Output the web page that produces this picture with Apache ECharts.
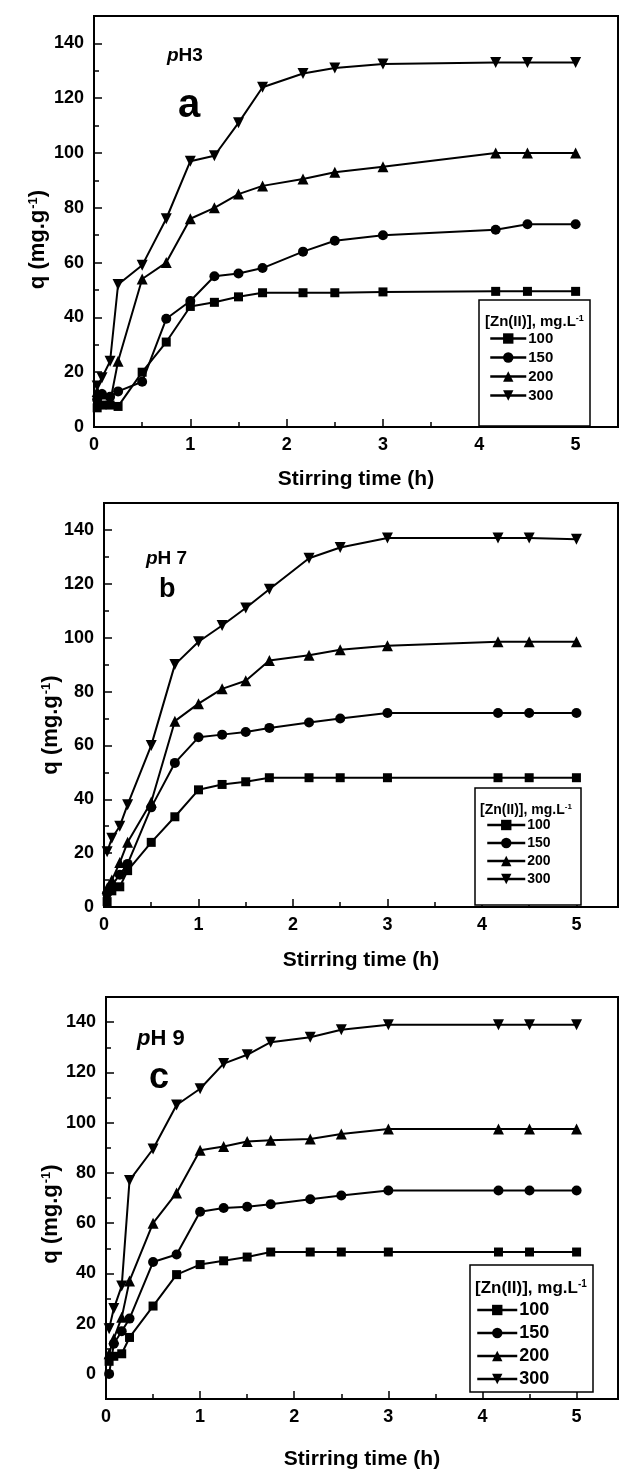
<!DOCTYPE html>
<html>
<head>
<meta charset="utf-8">
<script src="https://cdn.jsdelivr.net/npm/echarts@6/dist/echarts.min.js"></script>
<style>
  html, body { margin: 0; padding: 0; background: #fff; }
  #chart { width: 621px; height: 1471px; }
</style>
</head>
<body>
<div id="chart"></div>
<script>
// stirring times (h) shared by all runs
const times = [0.033, 0.083, 0.167, 0.25, 0.5, 0.75, 1, 1.25, 1.5, 1.75, 2.17, 2.5, 3, 4.17, 4.5, 5]
const seriesNames = ['100', '150', '200', '300']
const xTicks = [0, 1, 2, 3, 4, 5]
const yTicks = [0, 20, 40, 60, 80, 100, 120, 140]
const yMinorC = [-10, 10, 30, 50, 70, 90, 110, 130]

// pH 3
const a100 = [7, 8, 8, 7.5, 20, 31, 44, 45.5, 47.5, 49, 49, 49, 49.3, 49.5, 49.5, 49.5]
const a150 = [10, 12, 11, 13, 16.5, 39.5, 46, 55, 56, 58, 64, 68, 70, 72, 74, 74]
const a200 = [13, 12, 9, 24, 54, 60, 76, 80, 85, 88, 90.5, 93, 95, 100, 100, 100]
const a300 = [15, 18, 24, 52, 59, 76, 97, 99, 111, 124, 129, 131, 132.5, 133, 133, 133]

// pH 7
const b100 = [2, 6, 7.5, 13.5, 24, 33.5, 43.5, 45.5, 46.5, 48, 48, 48, 48, 48, 48, 48]
const b150 = [5, 8, 12, 16, 37, 53.5, 63, 64, 65, 66.5, 68.5, 70, 72, 72, 72, 72]
const b200 = [7, 10, 16.5, 24, 39, 69, 75.5, 81, 84, 91.5, 93.5, 95.5, 97, 98.5, 98.5, 98.5]
const b300 = [20.5, 25.5, 30, 38, 60, 90, 98.5, 104.5, 111, 118, 129.5, 133.5, 137, 137, 137, 136.5]

// pH 9
const c100 = [5, 7, 8, 14.5, 27, 39.5, 43.5, 45, 46.5, 48.5, 48.5, 48.5, 48.5, 48.5, 48.5, 48.5]
const c150 = [0, 12, 17, 22, 44.5, 47.5, 64.5, 66, 66.5, 67.5, 69.5, 71, 73, 73, 73, 73]
const c200 = [8, 14, 22.5, 37, 60, 72, 89, 90.5, 92.5, 93, 93.5, 95.5, 97.5, 97.5, 97.5, 97.5]
const c300 = [18, 26, 35, 77, 89.5, 107, 113.5, 123.5, 127, 132, 134, 137, 139, 139, 139, 139]

const FONT = 'Liberation Sans, Arial, sans-serif'
const symbols = ['rect', 'circle', 'triangle', 'path://M0,0L10,0L5,10Z']
const symbolSizes = [9, 10, 11, 11]

const grids = [
    { left: 94, top: 16, width: 525, height: 411 },
    { left: 104, top: 503, width: 516, height: 404 },
    { left: 106, top: 997, width: 514, height: 406 }
].map(g => ({ ...g, show: true, borderColor: '#000', borderWidth: 2 }))

const makeSeries = (panel, lists) =>
    lists.map((vals, i) => ({
        name: seriesNames[i],
        type: 'line',
        xAxisIndex: panel,
        yAxisIndex: panel,
        data: times.map((t, k) => [t, vals[k]]),
        symbol: symbols[i],
        symbolSize: symbolSizes[i],
        lineStyle: { color: '#000', width: 2 },
        itemStyle: { color: '#000' },
        clip: false
    }))

const tickStyle = { color: '#000', width: 1.5 }

const xAxisFor = (i, nameGap) => ({
    gridIndex: i,
    type: 'value',
    min: 0,
    max: 5.44,
    interval: 1,
    name: 'Stirring time (h)',
    nameLocation: 'middle',
    nameGap,
    nameMoveOverlap: false,
    nameTextStyle: { fontFamily: FONT, fontSize: 21, fontWeight: 'bold', color: '#000' },
    axisLine: { onZero: false, lineStyle: { color: '#000', width: 2 } },
    axisTick: { inside: true, length: 8, lineStyle: tickStyle },
    minorTick: { show: true, splitNumber: 2, length: 5, lineStyle: tickStyle },
    axisLabel: {
        margin: 9, fontFamily: FONT, fontSize: 18, fontWeight: 'bold', color: '#000',
        formatter: v => (xTicks.indexOf(v) >= 0 ? String(v) : '')
    },
    splitLine: { show: false }
})

const yName = 'q (mg.g{sup|-1})'
const yNameStyle = shift => ({
    fontFamily: FONT, fontSize: 22, fontWeight: 'bold', color: '#000',
    padding: [0, shift, 0, 0],
    rich: { sup: { fontFamily: FONT, fontSize: 13, fontWeight: 'bold', color: '#000', verticalAlign: 'top', padding: [0, 0, 0, 1] } }
})
const yLabel = {
    margin: 10, fontFamily: FONT, fontSize: 18, fontWeight: 'bold', color: '#000',
    formatter: v => (yTicks.indexOf(v) >= 0 ? String(v) : '')
}

const yAxes = [
    {
        gridIndex: 0, type: 'value', min: 0, max: 150, interval: 20,
        name: yName, nameLocation: 'middle', nameGap: 45, nameMoveOverlap: false, nameTextStyle: yNameStyle(36),
        axisLine: { lineStyle: { color: '#000', width: 2 } },
        axisTick: { inside: true, length: 8, lineStyle: tickStyle },
        minorTick: { show: true, splitNumber: 2, length: 5, lineStyle: tickStyle },
        axisLabel: yLabel, splitLine: { show: false }
    },
    {
        gridIndex: 1, type: 'value', min: 0, max: 150, interval: 20,
        name: yName, nameLocation: 'middle', nameGap: 42, nameMoveOverlap: false, nameTextStyle: yNameStyle(40),
        axisLine: { lineStyle: { color: '#000', width: 2 } },
        axisTick: { inside: true, length: 8, lineStyle: tickStyle },
        minorTick: { show: true, splitNumber: 2, length: 5, lineStyle: tickStyle },
        axisLabel: yLabel, splitLine: { show: false }
    },
    {
        gridIndex: 2, type: 'value', min: -10, max: 150,
        name: yName, nameLocation: 'middle', nameGap: 44, nameMoveOverlap: false, nameTextStyle: yNameStyle(32),
        axisLine: { onZero: false, lineStyle: { color: '#000', width: 2 } },
        axisTick: { inside: true, length: 8, lineStyle: tickStyle, customValues: yTicks },
        axisLabel: { ...yLabel, customValues: yTicks },
        splitLine: { show: false }
    },
    {
        // minor ticks for the pH 9 panel
        gridIndex: 2, type: 'value', min: -10, max: 150, position: 'left',
        axisLine: { show: false, onZero: false },
        axisTick: { inside: true, length: 5, lineStyle: tickStyle, customValues: yMinorC },
        axisLabel: { show: false },
        splitLine: { show: false }
    }
]

const legendFor = (left, top, itemWidth, size, gap) => ({
    orient: 'vertical',
    left, top,
    padding: 0,
    itemWidth,
    itemHeight: 13,
    itemGap: gap,
    data: seriesNames,
    selectedMode: false,
    z: 10,
    lineStyle: { width: 2.5 },
    textStyle: { fontFamily: FONT, fontSize: size, lineHeight: size, fontWeight: 'bold', color: '#000', padding: [0, 0, 0, -3] }
})

const legendBox = (x, y, w, h) => ({
    type: 'rect', z: 1,
    shape: { x, y, width: w, height: h },
    style: { fill: '#fff', stroke: '#000', lineWidth: 1.5 }
})
const legendTitle = (x, y, size) => ({
    type: 'text', z: 5, x, y,
    style: {
        text: '[Zn(II)], mg.L{sup|-1}',
        font: `bold ${size}px ${FONT}`,
        fill: '#000', verticalAlign: 'middle',
        rich: { sup: { font: `bold ${Math.round(size * 0.6)}px ${FONT}`, fill: '#000', verticalAlign: 'top' } }
    }
})
const tag = (x, y, text, size) => ({
    type: 'text', z: 5, x, y,
    style: {
        text, font: `bold ${size}px ${FONT}`, fill: '#000', verticalAlign: 'middle',
        rich: { i: { font: `italic bold ${size}px ${FONT}`, fill: '#000' } }
    }
})

const option = {
    animation: false,
    backgroundColor: '#fff',
    grid: grids,
    xAxis: [xAxisFor(0, 42), xAxisFor(1, 43), xAxisFor(2, 50)],
    yAxis: yAxes,
    legend: [
        legendFor(489, 331, 36, 15, 4),
        legendFor(486, 818, 38, 14, 4),
        legendFor(476, 1301, 40, 18, 5)
    ],
    graphic: [
        legendBox(479, 300, 111, 126),
        legendBox(475, 788, 106, 117),
        legendBox(470, 1265, 123, 127),
        legendTitle(485, 322, 15),
        legendTitle(480, 810, 14),
        legendTitle(475, 1288, 17),
        tag(167, 56, '{i|p}H3', 19),
        tag(178, 106, 'a', 40),
        tag(146, 559, '{i|p}H 7', 19),
        tag(159, 590, 'b', 27),
        tag(137, 1039, '{i|p}H 9', 22),
        tag(149, 1078, 'c', 36)
    ],
    series: [
        ...makeSeries(0, [a100, a150, a200, a300]),
        ...makeSeries(1, [b100, b150, b200, b300]),
        ...makeSeries(2, [c100, c150, c200, c300])
    ]
}

const chart = echarts.init(document.getElementById('chart'))
chart.setOption(option)
</script>
</body>
</html>
